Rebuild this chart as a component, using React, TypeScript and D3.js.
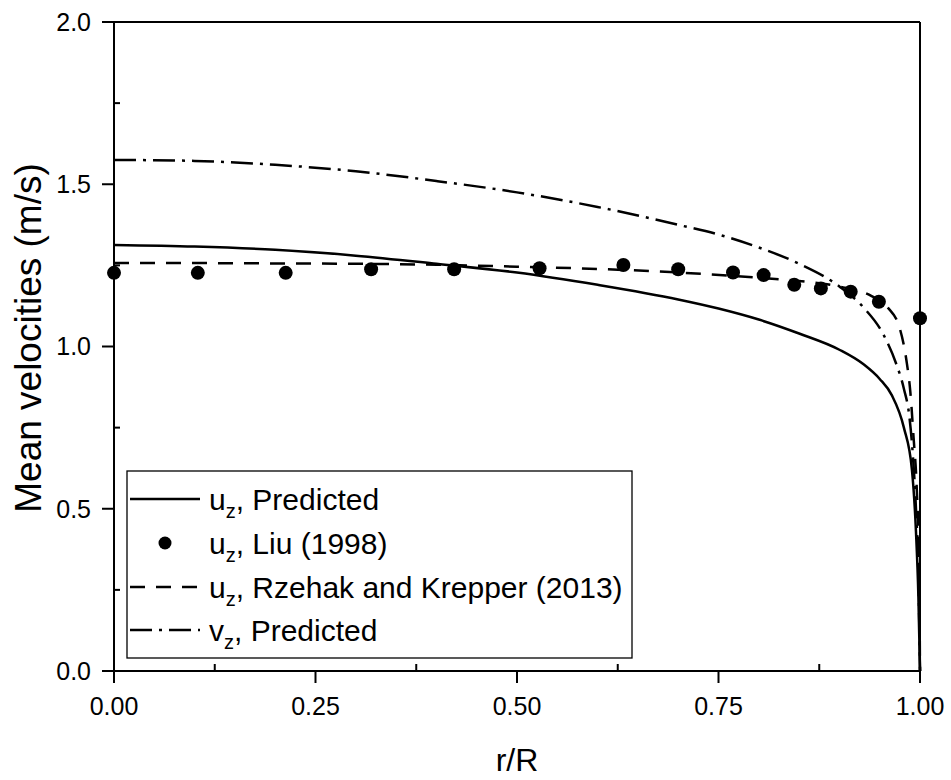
import React from "react";
import * as d3 from "d3";

const liuR = [0, 0.104, 0.213, 0.319, 0.422, 0.528, 0.632, 0.7, 0.768, 0.806, 0.844, 0.877, 0.914, 0.949, 1.0];
const liuV = [1.227, 1.227, 1.227, 1.238, 1.238, 1.241, 1.251, 1.238, 1.228, 1.22, 1.19, 1.179, 1.169, 1.138, 1.087];

const uPredR = [0, 0.1, 0.2, 0.3, 0.4, 0.5, 0.6, 0.7, 0.75, 0.8, 0.85, 0.9, 0.93, 0.95, 0.965, 0.98, 0.99, 0.995, 0.998, 1.0];
const uPredV = [1.313, 1.308, 1.298, 1.28, 1.255, 1.228, 1.19, 1.145, 1.117, 1.083, 1.04, 0.99, 0.945, 0.9, 0.85, 0.75, 0.62, 0.43, 0.23, 0.0];

const rzR = [0, 0.1, 0.2, 0.3, 0.4, 0.5, 0.6, 0.7, 0.8, 0.85, 0.9, 0.94, 0.96, 0.975, 0.983, 0.988, 0.992, 0.996, 0.999, 1.0];
const rzV = [1.257, 1.257, 1.256, 1.255, 1.252, 1.246, 1.239, 1.228, 1.212, 1.202, 1.185, 1.155, 1.12, 1.055, 0.96, 0.86, 0.72, 0.56, 0.3, 0.0];

const vPredR = [0, 0.1, 0.2, 0.3, 0.4, 0.5, 0.6, 0.7, 0.75, 0.8, 0.85, 0.9, 0.93, 0.955, 0.97, 0.98, 0.987, 0.991, 0.995, 0.998, 1.0];
const vPredV = [1.575, 1.572, 1.56, 1.54, 1.51, 1.475, 1.43, 1.375, 1.345, 1.305, 1.255, 1.185, 1.12, 1.035, 0.95, 0.87, 0.78, 0.67, 0.5, 0.3, 0.0];

const xMajorTicks = [0, 0.25, 0.5, 0.75, 1.0];
const xTickLabels = ["0.00", "0.25", "0.50", "0.75", "1.00"];
const yMajorTicks = [0, 0.5, 1.0, 1.5, 2.0];
const yTickLabels = ["0.0", "0.5", "1.0", "1.5", "2.0"];
const xMinorTicks = [0.125, 0.375, 0.625, 0.875];
const yMinorTicks = [0.25, 0.75, 1.25, 1.75];

const legendLabels = [
  { main: "u", sub: "z", rest: ", Predicted", kind: "solid" },
  { main: "u", sub: "z", rest: ", Liu (1998)", kind: "marker" },
  { main: "u", sub: "z", rest: ", Rzehak and Krepper (2013)", kind: "dash" },
  { main: "v", sub: "z", rest: ", Predicted", kind: "dashdot" },
];

const W = 951, H = 780;
const L = 114, R = 920, T = 22, B = 671;
const FONT = "Arial, 'Liberation Sans', sans-serif";

export default function App() {
  const x = d3.scaleLinear().domain([0, 1]).range([L, R]);
  const y = d3.scaleLinear().domain([0, 2]).range([B, T]);
  const line = d3.line<[number, number]>().x(d => x(d[0])).y(d => y(d[1])).curve(d3.curveMonotoneX);
  const zip = (a: number[], b: number[]) => a.map((v, i) => [v, b[i]] as [number, number]);

  const dashStyle = "15,11";
  const dashDotStyle = "22,7,3,7";
  const lw = 2.5;

  const legX = 127, legBottom = 658, legTop = 471, legRight = 632;
  const rowY = [499, 543, 587, 630];

  return (
    <svg width={W} height={H} style={{ position: "absolute", left: 0, top: 0, background: "#fff" }} fontFamily={FONT}>
      <rect x={0} y={0} width={W} height={H} fill="#fff" />
      {/* data */}
      <path d={line(zip(uPredR, uPredV)) || ""} fill="none" stroke="#000" strokeWidth={lw} />
      <path d={line(zip(rzR, rzV)) || ""} fill="none" stroke="#000" strokeWidth={lw} strokeDasharray={dashStyle} />
      <path d={line(zip(vPredR, vPredV)) || ""} fill="none" stroke="#000" strokeWidth={lw} strokeDasharray={dashDotStyle} />
      {liuR.map((r, i) => (
        <circle key={i} cx={x(r)} cy={y(liuV[i])} r={7} fill="#000" />
      ))}
      {/* frame */}
      <line x1={L} y1={T} x2={R} y2={T} stroke="#000" strokeWidth={2} />
      <line x1={R} y1={T} x2={R} y2={B} stroke="#000" strokeWidth={2} />
      <line x1={L} y1={B} x2={R + 1} y2={B} stroke="#000" strokeWidth={2} />
      <line x1={L} y1={T - 1} x2={L} y2={B} stroke="#000" strokeWidth={2} />
      {/* x ticks */}
      {xMajorTicks.map((t, i) => (
        <g key={"xm" + i}>
          <line x1={x(t)} y1={B} x2={x(t)} y2={B + 12} stroke="#000" strokeWidth={2} />
          <text x={x(t)} y={715} textAnchor="middle" fontSize={25} fill="#000">{xTickLabels[i]}</text>
        </g>
      ))}
      {xMinorTicks.map((t, i) => (
        <line key={"xn" + i} x1={x(t)} y1={B} x2={x(t)} y2={B - 7} stroke="#000" strokeWidth={2} />
      ))}
      {/* y ticks */}
      {yMajorTicks.map((t, i) => (
        <g key={"ym" + i}>
          <line x1={L - 12} y1={y(t)} x2={L} y2={y(t)} stroke="#000" strokeWidth={2} />
          <text x={91} y={y(t)} dy="0.35em" textAnchor="end" fontSize={25} fill="#000">{yTickLabels[i]}</text>
        </g>
      ))}
      {yMinorTicks.map((t, i) => (
        <line key={"yn" + i} x1={L} y1={y(t)} x2={L + 6} y2={y(t)} stroke="#000" strokeWidth={2} />
      ))}
      {/* axis titles */}
      <text x={(L + R) / 2} y={771} textAnchor="middle" fontSize={32} fill="#000">r/R</text>
      <text transform={`translate(41, 338) rotate(-90)`} textAnchor="middle" fontSize={37} fill="#000">Mean velocities (m/s)</text>
      {/* legend */}
      <rect x={legX} y={legTop} width={legRight - legX} height={legBottom - legTop} fill="#fff" stroke="#000" strokeWidth={1.3} />
      {legendLabels.map((lg, i) => {
        const cy = rowY[i];
        let sample: React.ReactNode = null;
        if (lg.kind === "solid") sample = <line x1={130} x2={200} y1={cy} y2={cy} stroke="#000" strokeWidth={lw} />;
        if (lg.kind === "marker") sample = <circle cx={165} cy={cy} r={6.5} fill="#000" />;
        if (lg.kind === "dash") sample = <line x1={130} x2={200} y1={cy} y2={cy} stroke="#000" strokeWidth={lw} strokeDasharray={dashStyle} />;
        if (lg.kind === "dashdot") sample = <line x1={130} x2={200} y1={cy} y2={cy} stroke="#000" strokeWidth={lw} strokeDasharray={dashDotStyle} />;
        return (
          <g key={"lg" + i}>
            {sample}
            <text x={209} y={cy} dy="0.35em" fontSize={30} fill="#000">
              {lg.main}
              <tspan fontSize={20} dy="8">{lg.sub}</tspan>
              <tspan dy="-8">{lg.rest}</tspan>
            </text>
          </g>
        );
      })}
    </svg>
  );
}
